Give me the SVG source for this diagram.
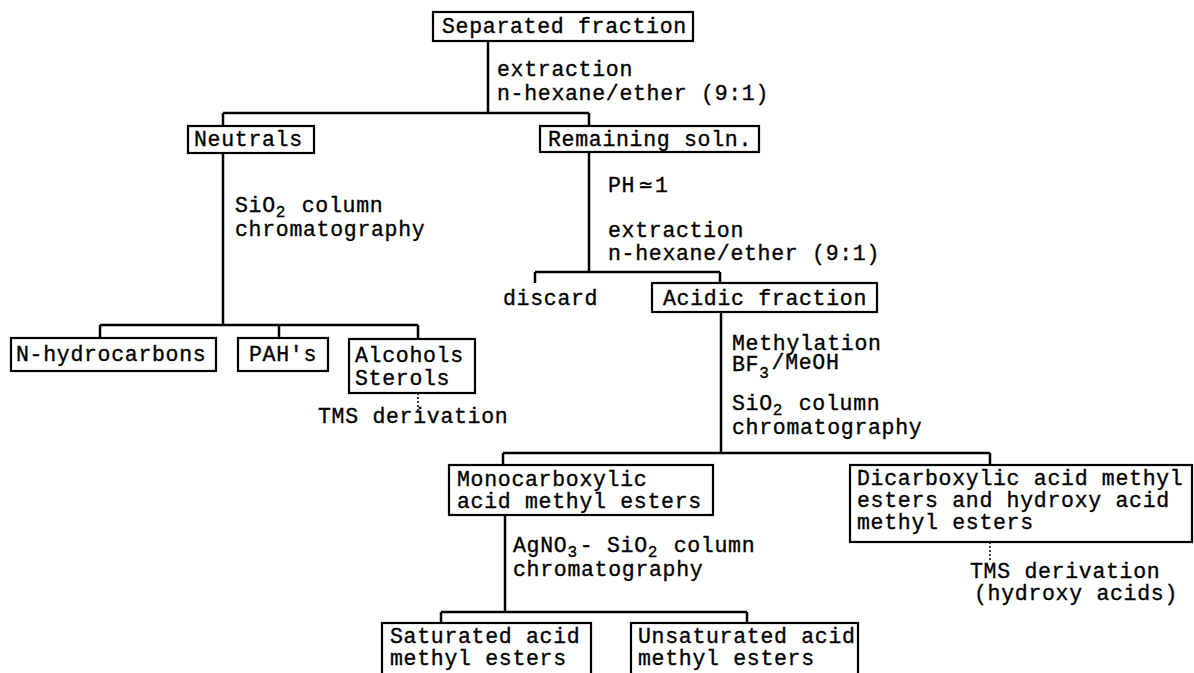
<svg xmlns="http://www.w3.org/2000/svg" width="1194" height="673" viewBox="0 0 1194 673">
<style>
text{font-family:"Liberation Mono","DejaVu Sans Mono",monospace;font-size:21.5px;letter-spacing:0.7px;fill:#000;stroke:#000;stroke-width:0.35}
.sub{font-size:16px}
.box{fill:#fff;stroke:#000;stroke-width:2.2}
.ln{fill:none;stroke:#000;stroke-width:2.5}
.dot{fill:none;stroke:#000;stroke-width:1.5;stroke-dasharray:2 2}
</style>
<rect width="1194" height="673" fill="#fff"/>
<g id="connectors">
<path class="ln" d="M488,41 V113 M223,113 H589 M223,113 V126 M589,113 V126"/>
<path class="ln" d="M223,153 V325 M100,325 H418 M100,325 V338 M279,325 V338 M418,325 V339"/>
<path class="ln" d="M589,152 V272 M535,272 H720 M535,272 V283 M720,272 V283"/>
<path class="ln" d="M721,312 V453 M503,453 H990 M503,453 V465 M990,453 V465"/>
<path class="ln" d="M505,515 V612 M441,612 H747 M441,612 V623 M747,612 V623"/>
<path class="dot" d="M418,393 V413 M990,542 V562"/>
<text x="497" y="76">extraction</text>
<text x="497" y="100">n-hexane/ether (9:1)</text>
<text x="235" y="212">SiO<tspan class="sub" dy="5">2</tspan><tspan dy="-5" dx="2"> column</tspan></text>
<text x="235" y="236">chromatography</text>
<text x="608" y="192">PH<tspan dx="4">≃</tspan><tspan dx="2">1</tspan></text>
<text x="608" y="237">extraction</text>
<text x="608" y="260">n-hexane/ether (9:1)</text>
<text x="732" y="350">Methylation</text>
<text x="732" y="371">BF<tspan class="sub" dy="7">3</tspan><tspan dy="-9" dx="2">/MeOH</tspan></text>
<text x="732" y="410">SiO<tspan class="sub" dy="5">2</tspan><tspan dy="-5" dx="2"> column</tspan></text>
<text x="732" y="434">chromatography</text>
<text x="513" y="552">AgNO<tspan class="sub" dy="5">3</tspan><tspan dy="-5" dx="2">- SiO</tspan><tspan class="sub" dy="5">2</tspan><tspan dy="-5" dx="2"> column</tspan></text>
<text x="513" y="576">chromatography</text>
</g>
<g id="separated"><rect class="box" x="433" y="12" width="260" height="29"/><text x="442" y="33">Separated fraction</text></g>
<g id="neutrals"><rect class="box" x="188" y="126" width="126" height="27"/><text x="194" y="146">Neutrals</text></g>
<g id="remaining"><rect class="box" x="540" y="126" width="219" height="26"/><text x="548" y="146">Remaining soln.</text></g>
<g id="discard"><text x="503" y="305">discard</text></g>
<g id="acidic"><rect class="box" x="652" y="283" width="225" height="29"/><text x="663" y="305">Acidic fraction</text></g>
<g id="nhydrocarbons"><rect class="box" x="11" y="338" width="205" height="33"/><text x="16" y="361">N-hydrocarbons</text></g>
<g id="pahs"><rect class="box" x="238" y="338" width="90" height="33"/><text x="249" y="361">PAH's</text></g>
<g id="alcohols"><rect class="box" x="349" y="339" width="126" height="54"/><text x="355" y="362">Alcohols</text><text x="355" y="385">Sterols</text></g>
<g id="tms1"><text x="318" y="423">TMS derivation</text></g>
<g id="mono"><rect class="box" x="449" y="465" width="264" height="50"/><text x="457" y="486">Monocarboxylic</text><text x="457" y="508">acid methyl esters</text></g>
<g id="dicarb"><rect class="box" x="850" y="465" width="342" height="77"/><text x="857" y="485">Dicarboxylic acid methyl</text><text x="857" y="507">esters and hydroxy acid</text><text x="857" y="529">methyl esters</text></g>
<g id="tms2"><text x="970" y="578">TMS derivation</text><text x="974" y="600">(hydroxy acids)</text></g>
<g id="saturated"><rect class="box" x="382" y="623" width="209" height="70"/><text x="390" y="643">Saturated acid</text><text x="390" y="665">methyl esters</text></g>
<g id="unsaturated"><rect class="box" x="631" y="623" width="227" height="70"/><text x="638" y="643">Unsaturated acid</text><text x="638" y="665">methyl esters</text></g>
</svg>
